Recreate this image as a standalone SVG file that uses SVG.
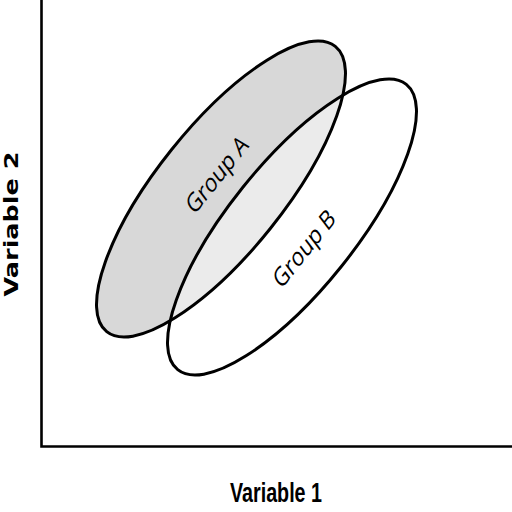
<svg xmlns="http://www.w3.org/2000/svg" width="512" height="512" viewBox="0 0 512 512">
<style>
.axis{fill:none;stroke:#000;stroke-width:2.6}
.ell{stroke:#000;stroke-width:3}
.lbl{font-family:"Open Sans","Noto Sans","Liberation Sans",sans-serif;font-size:23px;fill:#000}
</style>
<defs>
<ellipse id="shape" cx="0" cy="0" rx="182.8" ry="63.2"/>
<clipPath id="clipA"><use href="#shape" transform="translate(221,189) rotate(-51.3)"/></clipPath>
</defs>
<rect width="512" height="512" fill="#fff"/>
<g id="axes">
<polyline class="axis" points="41.5,0 41.5,446.5 512,446.5"/>
</g>
<g id="groupA">
<use href="#shape" fill="#d8d8d8" transform="translate(221,189) rotate(-51.3)"/>
</g>
<g id="overlap" clip-path="url(#clipA)">
<use href="#shape" fill="#ebebeb" transform="translate(292,227) rotate(-51.3)"/>
</g>
<g id="outlines">
<use href="#shape" class="ell" fill="none" transform="translate(221,189) rotate(-51.3)"/>
<use href="#shape" class="ell" fill="none" transform="translate(292,227) rotate(-51.3)"/>
</g>
<g id="labels">
<text class="lbl" text-anchor="middle" transform="translate(222,181) rotate(-51.3) skewX(-14)">Group A</text>
<text class="lbl" text-anchor="middle" transform="translate(309,255) rotate(-51.3) skewX(-14)">Group B</text>
<text x="276" y="502" text-anchor="middle" font-family="'Liberation Sans',Arial,sans-serif" font-weight="bold" font-size="27" textLength="92" lengthAdjust="spacingAndGlyphs">Variable 1</text>
<text transform="translate(18,224) rotate(-90)" text-anchor="middle" font-family="'DejaVu Sans',Verdana,sans-serif" font-weight="bold" font-size="20" textLength="145" lengthAdjust="spacingAndGlyphs">Variable 2</text>
</g>
</svg>
